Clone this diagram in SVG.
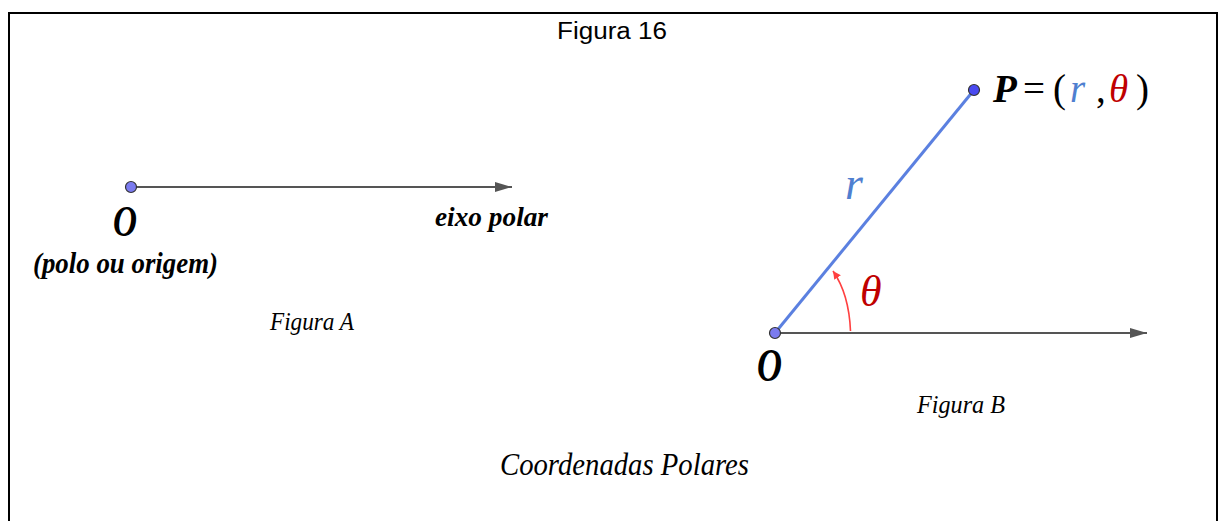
<svg xmlns="http://www.w3.org/2000/svg" width="1218" height="521" viewBox="0 0 1218 521">
<style>
.serif{font-family:"Liberation Serif","Times New Roman",serif;}
.bi{font-weight:bold;font-style:italic;fill:#000;}
.it{font-style:italic;fill:#000;}
.axis{stroke:#555;stroke-width:2.2;fill:none;}
.pt{stroke:#333;stroke-width:1.2;}
</style>
<defs>
<marker id="ah" markerWidth="18" markerHeight="12" refX="17" refY="5" orient="auto" markerUnits="userSpaceOnUse">
<path d="M0,0 L17,5 L0,10 Z" fill="#555"/>
</marker>
<marker id="rh" markerWidth="10" markerHeight="10" refX="8" refY="4" orient="auto" markerUnits="userSpaceOnUse">
<path d="M0,0 L8,4 L0,8 Z" fill="#ff4040"/>
</marker>
</defs>
<rect width="1218" height="521" fill="#fff"/>
<path d="M9,521 V13 H1217 V521" fill="none" stroke="#000" stroke-width="2"/>
<text x="612" y="39" text-anchor="middle" font-family="Liberation Sans, Arial, sans-serif" font-size="23" textLength="110" lengthAdjust="spacingAndGlyphs">Figura 16</text>

<g id="connectors">
<line class="axis" x1="131" y1="187" x2="512" y2="187" marker-end="url(#ah)"/>
<line class="axis" x1="775" y1="333" x2="1147" y2="333" marker-end="url(#ah)"/>
<line x1="775" y1="333" x2="974" y2="90" stroke="#5b80e0" stroke-width="3"/>
<path d="M850.5,331 Q849,294 833,271" fill="none" stroke="#ff4040" stroke-width="1.6" marker-end="url(#rh)"/>
</g>

<g id="figA-origin">
<circle class="pt" cx="131" cy="187" r="5.5" fill="#7b7bef"/>
<text class="serif bi" x="113" y="236" font-size="44" textLength="24" lengthAdjust="spacingAndGlyphs">O</text>
<text class="serif bi" x="33" y="273" font-size="29" textLength="185" lengthAdjust="spacingAndGlyphs">(polo ou origem)</text>
</g>
<g id="figA-axis-label">
<text class="serif bi" x="435" y="226" font-size="28" textLength="113" lengthAdjust="spacingAndGlyphs">eixo polar</text>
</g>
<g id="figA-caption">
<text class="serif it" x="270" y="330" font-size="25" textLength="84" lengthAdjust="spacingAndGlyphs">Figura A</text>
</g>

<g id="figB-origin">
<circle class="pt" cx="775" cy="333" r="5.5" fill="#7b7bef"/>
<text class="serif bi" x="757" y="381" font-size="47" textLength="25" lengthAdjust="spacingAndGlyphs">O</text>
</g>
<g id="figB-point">
<circle class="pt" cx="974" cy="90" r="5.5" fill="#4a4af0"/>
<text class="serif" x="993" y="102" font-size="39">
<tspan class="bi">P</tspan>
<tspan x="1023" fill="#000">=</tspan>
<tspan x="1053" fill="#000">(</tspan>
<tspan x="1070" font-style="italic" fill="#4f7fd0">r</tspan>
<tspan x="1096" fill="#000">,</tspan>
<tspan x="1109" font-style="italic" fill="#c00000">θ</tspan>
<tspan x="1136" fill="#000">)</tspan>
</text>
</g>
<g id="figB-labels">
<text class="serif" x="845" y="199" font-size="46" font-style="italic" fill="#4f7fd0">r</text>
<text class="serif" x="860" y="306" font-size="44" font-style="italic" fill="#c00000">θ</text>
<text class="serif it" x="917" y="413" font-size="26" textLength="88" lengthAdjust="spacingAndGlyphs">Figura B</text>
</g>
<g id="title">
<text class="serif it" x="500" y="475" font-size="31" textLength="249" lengthAdjust="spacingAndGlyphs">Coordenadas Polares</text>
</g>
</svg>
